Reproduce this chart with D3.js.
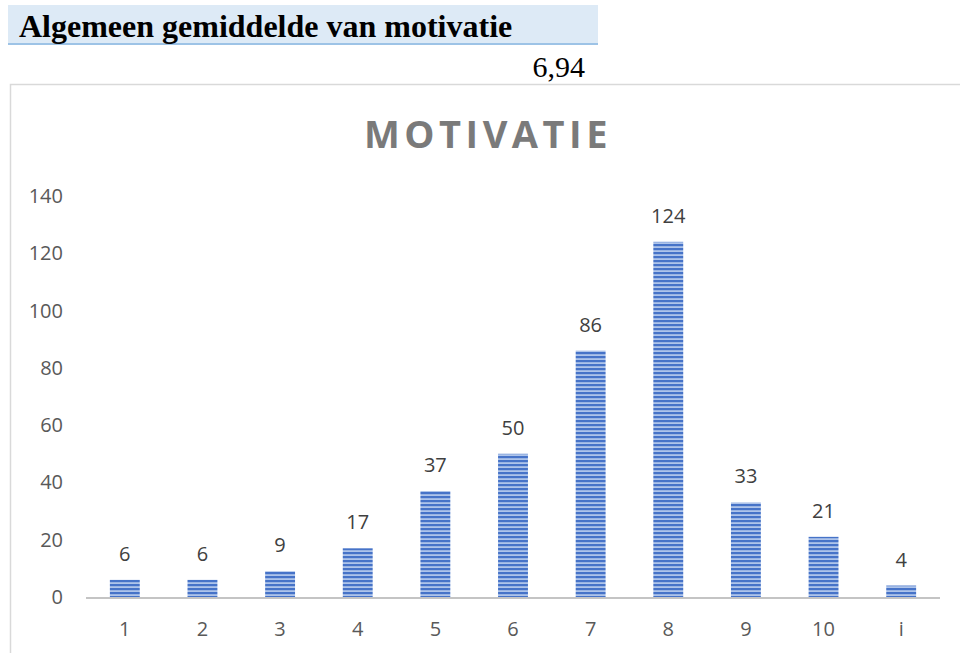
<!DOCTYPE html>
<html lang="nl">
<head>
<meta charset="UTF-8">
<title>Motivatie</title>
<script src="https://d3js.org/d3.v7.min.js"></script>
<style>
  body { margin: 0; background: #fff; }
  svg { display: block; }
</style>
</head>
<body>
<div id="chart"></div>
<script>
// data
var categories = ["1", "2", "3", "4", "5", "6", "7", "8", "9", "10", "i"];
var counts = [6, 6, 9, 17, 37, 50, 86, 124, 33, 21, 4];
var yTicks = [0, 20, 40, 60, 80, 100, 120, 140];
var heading = "Algemeen gemiddelde van motivatie";
var average = "6,94";
var chartTitle = "MOTIVATIE";

var width = 960, height = 653;
var sans = "'Open Sans', 'Noto Sans', sans-serif";
var serif = "'Liberation Serif', 'DejaVu Serif', serif";

var svg = d3.select("#chart").append("svg")
  .attr("width", width)
  .attr("height", height);

// striped fill for the bars
var defs = svg.append("defs");
var pat = defs.append("pattern")
  .attr("id", "stripes")
  .attr("patternUnits", "userSpaceOnUse")
  .attr("width", 8).attr("height", 4);
pat.append("rect").attr("width", 8).attr("height", 4).attr("fill", "#aec4ea");
pat.append("rect").attr("y", 0).attr("width", 8).attr("height", 2.2).attr("fill", "#4673c8");

// header band
svg.append("rect")
  .attr("x", 8).attr("y", 5)
  .attr("width", 590).attr("height", 39)
  .attr("fill", "#ddeaf6");
svg.append("line")
  .attr("x1", 8).attr("x2", 598)
  .attr("y1", 44).attr("y2", 44)
  .attr("stroke", "#9dc3e6").attr("stroke-width", 2);
svg.append("text")
  .attr("x", 19).attr("y", 37)
  .attr("font-family", serif)
  .attr("font-weight", "bold")
  .attr("font-size", 32)
  .attr("fill", "#000")
  .text(heading);
svg.append("text")
  .attr("x", 585).attr("y", 77)
  .attr("text-anchor", "end")
  .attr("font-family", serif)
  .attr("font-size", 30)
  .attr("fill", "#000")
  .text(average);

// chart frame
svg.append("path")
  .attr("d", "M10.5," + height + "V84.5H" + width)
  .attr("fill", "none")
  .attr("stroke", "#d9d9d9")
  .attr("stroke-width", 1.5);

svg.append("text")
  .attr("x", 488).attr("y", 148)
  .attr("text-anchor", "middle")
  .attr("font-family", sans)
  .attr("font-weight", "bold")
  .attr("font-size", 38)
  .attr("letter-spacing", 4.5)
  .attr("fill", "#7a7a7a")
  .text(chartTitle);

// scales
var x = d3.scaleBand()
  .domain(categories)
  .range([86, 940])
  .paddingInner(0.615)
  .paddingOuter(0.3075);

var y = d3.scaleLinear()
  .domain([0, 140])
  .range([597, 196]);

// y tick labels
svg.append("g")
  .selectAll("text")
  .data(yTicks)
  .enter()
  .append("text")
    .attr("x", 63)
    .attr("y", function(d) { return y(d); })
    .attr("dy", "0.35em")
    .attr("text-anchor", "end")
    .attr("font-family", sans)
    .attr("font-size", 20)
    .attr("fill", "#595959")
    .text(function(d) { return d; });

// bars
svg.append("g")
  .selectAll("rect")
  .data(counts)
  .enter()
  .append("rect")
    .attr("x", function(d, i) { return x(categories[i]); })
    .attr("y", function(d) { return y(d); })
    .attr("width", x.bandwidth())
    .attr("height", function(d) { return y(0) - y(d); })
    .attr("fill", "url(#stripes)");

// axis line
svg.append("line")
  .attr("x1", 86).attr("x2", 940)
  .attr("y1", y(0) + 1).attr("y2", y(0) + 1)
  .attr("stroke", "#c4c4c4")
  .attr("stroke-width", 2);

// value labels
svg.append("g")
  .selectAll("text")
  .data(counts)
  .enter()
  .append("text")
    .attr("x", function(d, i) { return x(categories[i]) + x.bandwidth() / 2; })
    .attr("y", function(d) { return y(d) - 19; })
    .attr("text-anchor", "middle")
    .attr("font-family", sans)
    .attr("font-size", 20)
    .attr("fill", "#404040")
    .text(function(d) { return d; });

// category labels
svg.append("g")
  .selectAll("text")
  .data(categories)
  .enter()
  .append("text")
    .attr("x", function(d) { return x(d) + x.bandwidth() / 2; })
    .attr("y", 636)
    .attr("text-anchor", "middle")
    .attr("font-family", sans)
    .attr("font-size", 20)
    .attr("fill", "#595959")
    .text(function(d) { return d; });
</script>
</body>
</html>
